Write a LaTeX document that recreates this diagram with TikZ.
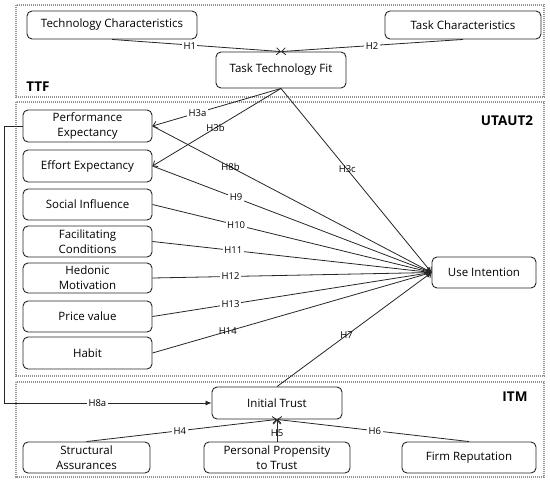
\documentclass[tikz,border=0pt]{standalone}
\usepackage{fontspec}
\setmainfont{Open Sans}
\usetikzlibrary{arrows.meta}
\begin{document}
\begin{tikzpicture}[x=1pt,y=-1pt,
 box/.style={draw=black!85,line width=0.9pt,rounded corners=5pt,align=center,
   font=\fontsize{11.5}{15}\selectfont,inner sep=0pt},
 frame/.style={draw=gray!85,line width=1.8pt,dash pattern=on 1.1pt off 0.9pt},
 flabel/.style={font=\fontsize{13.5}{16}\selectfont\bfseries,inner sep=0pt},
 hyp/.style={font=\fontsize{9.5}{10}\selectfont,inner sep=1.5pt},
 hypw/.style={hyp,fill=white},
 link/.style={draw=black!85,line width=0.8pt,-{Straight Barb[length=4pt,width=7pt]}},
 fback/.style={draw=black!85,line width=0.8pt,-{Latex[length=6pt,width=5pt]}},
]
\useasboundingbox (0,0) rectangle (550,483);
% frames
\draw[frame] (16,5) rectangle (544,97);
\draw[frame] (16,102) rectangle (544,376);
\draw[frame] (16,382) rectangle (544,477);
\node[flabel] (lttf) at (38,87) {TTF};
\node[flabel] (lutaut) at (507,121) {UTAUT2};
\node[flabel] (litm) at (515,397) {ITM};
% boxes
\node[box,minimum width=170pt,minimum height=28pt] (tc) at (112,25) {Technology Characteristics};
\node[box,minimum width=156pt,minimum height=28pt] (tk) at (463,25) {Task Characteristics};
\node[box,minimum width=130pt,minimum height=36pt] (ttf) at (281,70) {Task Technology Fit};
\node[box,minimum width=129pt,minimum height=32pt] (pe) at (87.5,126) {Performance\\Expectancy};
\node[box,minimum width=129pt,minimum height=32pt] (ee) at (87.5,166) {Effort Expectancy};
\node[box,minimum width=129pt,minimum height=31pt] (si) at (87.5,204.5) {Social Influence};
\node[box,minimum width=129pt,minimum height=31pt] (fc) at (87.5,241.5) {Facilitating\\Conditions};
\node[box,minimum width=129pt,minimum height=30pt] (hm) at (87.5,278) {Hedonic\\Motivation};
\node[box,minimum width=129pt,minimum height=31pt] (pv) at (87.5,316.5) {Price value};
\node[box,minimum width=129pt,minimum height=32pt] (hb) at (87.5,353) {Habit};
\node[box,minimum width=104pt,minimum height=31pt] (ui) at (484,272.5) {Use Intention};
\node[box,minimum width=130pt,minimum height=32pt] (it) at (277,403) {Initial Trust};
\node[box,minimum width=127pt,minimum height=31pt] (sa) at (86.5,457.5) {Structural\\Assurances};
\node[box,minimum width=146pt,minimum height=31pt] (pp) at (277,457.5) {Personal Propensity\\to Trust};
\node[box,minimum width=134pt,minimum height=31pt] (fr) at (469,457.5) {Firm Reputation};
% TTF links
\draw[link] (tc.south) -- node[hypw,pos=0.46,yshift=-1pt] (h1) {H1} (ttf.north);
\draw[link] (tk.south) -- node[hypw,pos=0.5,yshift=-1pt] (h2) {H2} (ttf.north);
\draw[link] (ttf.south) -- node[hypw,pos=0.65] (h3a) {H3a} (pe.east);
\draw[link] (ttf.south) -- node[hyp,pos=0.51] (h3b) {H3b} (ee.east);
\draw[link] (ttf.south) -- node[hyp,pos=0.44] (h3c) {H3c} (ui.west);
% UTAUT2 links
\draw[link] (pe.east) -- node[hyp,pos=0.28] (h8b) {H8b} (ui.west);
\draw[link] (ee.east) -- node[hypw,pos=0.30,yshift=1pt] (h9) {H9} (ui.west);
\draw[link] (si.east) -- node[hypw,pos=0.30] (h10) {H10} (ui.west);
\draw[link] (fc.east) -- node[hypw,pos=0.29] (h11) {H11} (ui.west);
\draw[link] (hm.east) -- node[hypw,pos=0.28] (h12) {H12} (ui.west);
\draw[link] (pv.east) -- node[hypw,pos=0.28] (h13) {H13} (ui.west);
\draw[link] (hb.east) -- node[hyp,pos=0.27] (h14) {H14} (ui.west);
\draw[link] (it.north) -- node[hyp,pos=0.45] (h7) {H7} (ui.west);
% ITM links
\draw[link] (sa.north) -- node[hypw,pos=0.49] (h4) {H4} (it.south);
\draw[link] (pp.north) -- node[hyp,pos=0.39] (h5) {H5} (it.south);
\draw[link] (fr.north) -- node[hypw,pos=0.49] (h6) {H6} (it.south);
% feedback H8a
\coordinate (fb) at (4,403);
\draw[fback] (pe.west) -| (fb) -- node[hypw,pos=0.45] (h8a) {H8a} (it.west);
\end{tikzpicture}
\end{document}
